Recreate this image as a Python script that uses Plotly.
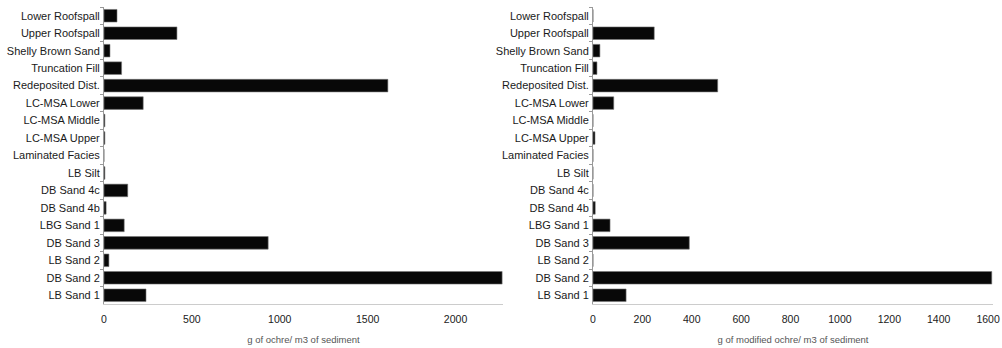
import plotly.graph_objects as go

categories = ["Lower Roofspall", "Upper Roofspall", "Shelly Brown Sand", "Truncation Fill",
              "Redeposited Dist.", "LC-MSA Lower", "LC-MSA Middle", "LC-MSA Upper",
              "Laminated Facies", "LB Silt", "DB Sand 4c", "DB Sand 4b", "LBG Sand 1",
              "DB Sand 3", "LB Sand 2", "DB Sand 2", "LB Sand 1"]
ochre = [74, 415, 34, 100, 1615, 223, 5, 5, 0, 5, 135, 12, 115, 934, 28, 2265, 239]
modified_ochre = [0, 248, 28, 16, 505, 84, 0, 8, 0, 0, 0, 9, 69, 390, 0, 1615, 134]
left_title = "g of ochre/ m3 of sediment"
right_title = "g of modified ochre/ m3 of sediment"

W, H = 1002, 348
FONT = "Liberation Sans, Arial, sans-serif"

fig = go.Figure()
bar_style = dict(marker=dict(color="#080808", line=dict(color="#777777", width=0.6)),
                 orientation="h", showlegend=False)
fig.add_trace(go.Bar(x=ochre, y=categories, xaxis="x", yaxis="y", **bar_style))
fig.add_trace(go.Bar(x=modified_ochre, y=categories, xaxis="x2", yaxis="y2", **bar_style))

ydom = [1 - 304 / H, 1 - 7 / H]
yax = dict(type="category", autorange="reversed", showline=True, linecolor="#999999",
           linewidth=1, ticks="outside", tickson="boundaries", ticklen=3, tickcolor="#999999",
           showgrid=False, zeroline=False, domain=ydom, ticklabelstandoff=1, automargin=False,
           tickfont=dict(family=FONT, size=11, color="#1a1a1a"))
xax = dict(showline=True, linecolor="#cccccc", linewidth=1, showgrid=False, zeroline=False,
           ticks="", tickfont=dict(family=FONT, size=10.5, color="#1a1a1a"),
           ticklabelstandoff=5, automargin=False)

fig.update_layout(
    width=W, height=H,
    margin=dict(l=0, r=0, t=0, b=0, autoexpand=False),
    paper_bgcolor="white", plot_bgcolor="white",
    bargap=0.28,
    xaxis=dict(domain=[104 / W, 503 / W], range=[0, 2270], dtick=500, anchor="y",
               title=dict(text=left_title, font=dict(family=FONT, size=9.5, color="#555555"), standoff=12),
               **xax),
    xaxis2=dict(domain=[593 / W, 993 / W], range=[0, 1620], dtick=200, anchor="y2",
                title=dict(text=right_title, font=dict(family=FONT, size=9.5, color="#555555"), standoff=12),
                **xax),
    yaxis=dict(anchor="x", **yax),
    yaxis2=dict(anchor="x2", **yax),
)

fig.write_html("out.html")
